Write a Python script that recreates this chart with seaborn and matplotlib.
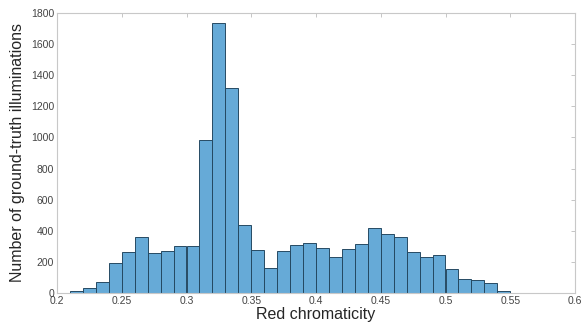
import numpy as np
import pandas as pd
import seaborn as sns
import matplotlib.pyplot as plt

# histogram of red chromaticity, bin width 0.01 from 0.21 to 0.55
bin_edges = [round(0.21 + 0.01 * i, 2) for i in range(35)]
counts = [15, 32, 73, 195, 263, 361, 259, 271, 299, 301,
          981, 1734, 1315, 436, 276, 162, 267, 308, 321, 291,
          233, 284, 316, 417, 378, 359, 265, 231, 245, 156,
          92, 86, 66, 15]
x_ticks = [0.2, 0.25, 0.3, 0.35, 0.4, 0.45, 0.5, 0.55, 0.6]
y_ticks = list(range(0, 1801, 200))

df = pd.DataFrame({"chroma": np.array(bin_edges[:-1]) + 0.005, "n": counts})

sns.set_style("white")
plt.rcParams['font.family'] = ['Liberation Sans', 'DejaVu Sans']

fig = plt.figure(figsize=(5.85, 3.31), dpi=100)
ax = fig.add_axes([57 / 585, 1 - 293 / 331, 518 / 585, 280 / 331])

sns.histplot(data=df, x="chroma", weights="n", bins=bin_edges, ax=ax,
             color='#0072BD', edgecolor='#264a63', linewidth=0.7)
for p in ax.patches:
    p.set_alpha(None)
    p.set_facecolor((0.0, 0.447, 0.741, 0.6))
    p.set_edgecolor('#264a63')

ax.set_xlim(0.2, 0.6)
ax.set_ylim(0, 1800)
ax.set_xticks(x_ticks)
ax.set_xticklabels([f"{t:g}" for t in x_ticks])
ax.set_yticks(y_ticks)
ax.set_xlabel("Red chromaticity", fontsize=11.5, color='#262626', labelpad=1)
ax.set_ylabel("Number of ground-truth illuminations", fontsize=11.5, color='#262626', labelpad=4)

ax.tick_params(direction='in', length=3, width=0.6, colors='#bdbdbd',
               labelcolor='#444444', labelsize=7.5, top=True, right=True, pad=2)
for s in ax.spines.values():
    s.set_visible(True)
    s.set_color('#c8c8c8')
    s.set_linewidth(0.8)

fig.savefig("out.png", dpi=100)
